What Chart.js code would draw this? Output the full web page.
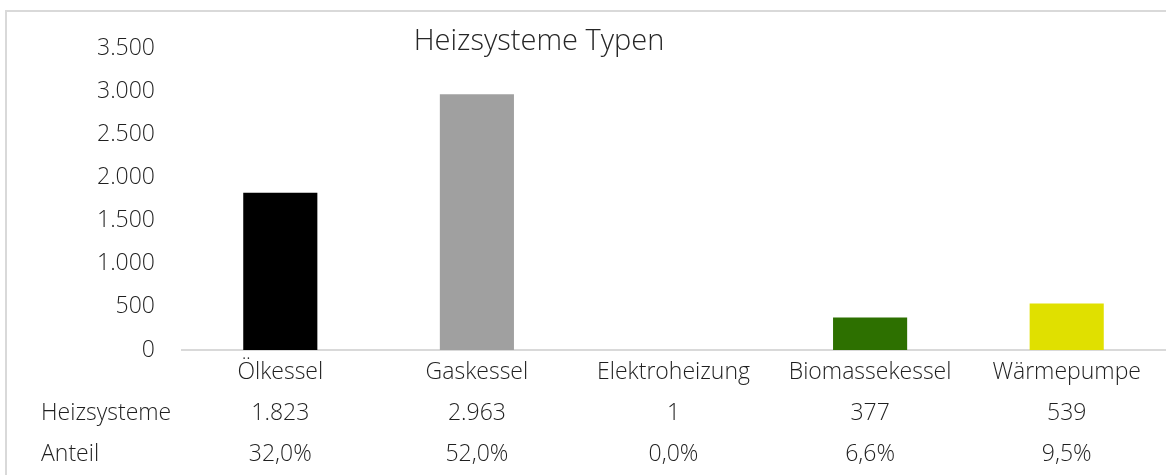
<!DOCTYPE html>
<html>
<head>
<meta charset="utf-8">
<script src="https://cdn.jsdelivr.net/npm/chart.js@4"></script>
<style>
  html, body { margin: 0; padding: 0; background: #fff; }
  #wrap { position: relative; width: 1166px; height: 475px; overflow: hidden; }
  #frame { position: absolute; left: 5px; top: 10px; width: 1200px; height: 500px;
           border-top: 2px solid #d9d9d9; border-left: 2px solid #d9d9d9; box-sizing: border-box; }
  #title { position: absolute; left: 0; width: 1078px; top: 21px; text-align: center;
           font-family: "Open Sans", sans-serif; font-weight: 300; font-size: 29px; color: #262626; line-height: 36px; }
  canvas { position: absolute; left: 0; top: 0; }
</style>
</head>
<body>
<div id="wrap">
  <div id="frame"></div>
  <canvas id="c" width="1166" height="475"></canvas>
  <div id="title">Heizsysteme Typen</div>
</div>
<script>
const categories = ['Ölkessel', 'Gaskessel', 'Elektroheizung', 'Biomassekessel', 'Wärmepumpe'];
const heizsysteme = [1823, 2963, 1, 377, 539];
const anteil = ['32,0%', '52,0%', '0,0%', '6,6%', '9,5%'];
const rowLabels = ['Heizsysteme', 'Anteil'];
const barColors = ['#000000', '#a0a0a0', '#5b9bd5', '#2d7000', '#e0e000'];
const yTicks = [0, 500, 1000, 1500, 2000, 2500, 3000, 3500];

const fmt = v => String(v).replace(/\B(?=(\d{3})+(?!\d))/g, '.');
const FONT = '"Open Sans", sans-serif';
const FS = 23;
const FW = 300;
const LH = 1.79;
const TEXT = '#1f1f1f';

const rowHeaders = {
  id: 'rowHeaders',
  afterDraw(chart) {
    const x = chart.scales.x;
    const ctx = chart.ctx;
    const lh = FS * LH;
    const pad = x.options.ticks.padding;
    ctx.save();
    ctx.font = FW + ' ' + FS + 'px ' + FONT;
    ctx.fillStyle = TEXT;
    ctx.textAlign = 'left';
    ctx.textBaseline = 'middle';
    rowLabels.forEach((t, i) => {
      ctx.fillText(t, 41, x.top + pad + lh * (i + 1) + lh / 2);
    });
    ctx.restore();
  }
};

new Chart(document.getElementById('c'), {
  type: 'bar',
  data: {
    labels: categories.map((c, i) => [c, fmt(heizsysteme[i]), anteil[i]]),
    datasets: [{
      data: heizsysteme,
      backgroundColor: barColors,
      borderWidth: 0,
      categoryPercentage: 1,
      barPercentage: 0.377
    }]
  },
  options: {
    responsive: false,
    animation: false,
    layout: { padding: { top: 48, right: 1, left: 0, bottom: 0 } },
    plugins: { legend: { display: false }, tooltip: { enabled: false }, title: { display: false } },
    scales: {
      x: {
        grid: { display: false, drawTicks: false },
        border: { display: true, color: '#d9d9d9', width: 2 },
        ticks: { color: TEXT, font: { family: FONT, size: FS, weight: FW, lineHeight: LH }, padding: 2, maxRotation: 0, autoSkip: false },
        afterFit(s) { s.height = 125; }
      },
      y: {
        min: 0, max: 3500,
        afterBuildTicks(s) { s.ticks = yTicks.map(v => ({ value: v })); },
        grid: { display: false, drawTicks: false },
        border: { display: false },
        ticks: { color: TEXT, font: { family: FONT, size: FS, weight: FW }, padding: 27, callback: v => fmt(v) },
        afterFit(s) { s.width = 182; }
      }
    }
  },
  plugins: [rowHeaders]
});
</script>
</body>
</html>
